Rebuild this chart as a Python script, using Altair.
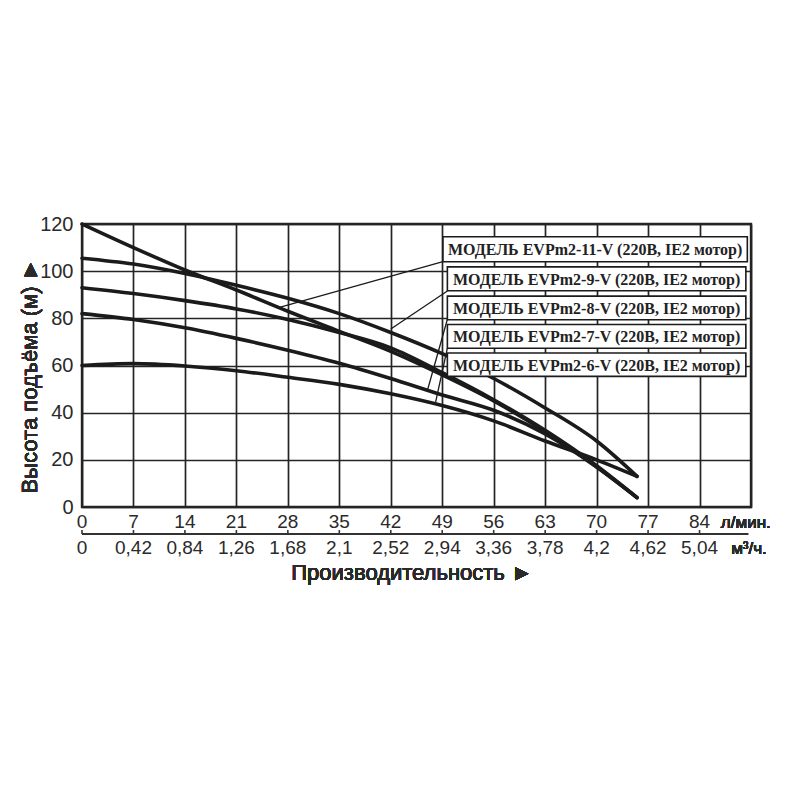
import altair as alt
import pandas as pd
import numpy as np

# ---- data ----
flow = [0, 7, 14, 21, 28, 35, 42, 49, 56, 63, 70, 75.5]
head_11 = [120, 110, 100.5, 92, 83, 74.5, 66, 56, 45, 32, 17, 4]
head_9 = [105.5, 103, 99, 94, 88.5, 82, 74, 65, 54.5, 42, 28, 13]
head_8 = [93, 90.5, 87.5, 84, 79.5, 74, 67.5, 57, 45.5, 32.5, 17.5, 4]
head_7 = [82, 79.5, 76, 71.5, 66.5, 61, 54.5, 47.5, 41, 31, 17, 4]
head_6 = [60, 60.8, 59.8, 57.8, 55, 52, 48, 43, 36.5, 28, 20, 13]

models = ["EVPm2-11-V", "EVPm2-9-V", "EVPm2-8-V", "EVPm2-7-V", "EVPm2-6-V"]
heads = [head_11, head_9, head_8, head_7, head_6]

lpm_ticks = [0, 7, 14, 21, 28, 35, 42, 49, 56, 63, 70, 77, 84]
lpm_labels = ["0", "7", "14", "21", "28", "35", "42", "49", "56", "63", "70", "77", "84"]
m3h_labels = ["0", "0,42", "0,84", "1,26", "1,68", "2,1", "2,52", "2,94", "3,36",
              "3,78", "4,2", "4,62", "5,04"]

legend_texts = [f"МОДЕЛЬ {m} (220В, IE2 мотор)" for m in models]

# ---- build tables ----
rows = []
for m, h in zip(models, heads):
    for f, v in zip(flow, h):
        rows.append({"model": m, "flow": f, "head": v})
df = pd.DataFrame(rows)

# label boxes (annotation layout in data units)
box_x1 = [49.1, 49.7, 49.7, 49.7, 49.7]
box_x2 = [90.5, 90.3, 90.3, 90.3, 90.3]
box_y1 = [114.6, 101.8, 89.4, 77.4, 65.3]
box_y2 = [104.0, 91.7, 79.4, 67.3, 55.4]
boxes = pd.DataFrame({
    "x1": box_x1, "x2": box_x2, "y1": box_y1, "y2": box_y2,
    "xc": [(a + b) / 2 for a, b in zip(box_x1, box_x2)],
    "yc": [(a + b) / 2 for a, b in zip(box_y1, box_y2)],
    "text": legend_texts,
})
leaders = pd.DataFrame({
    "x1": [49.1, 49.7, 49.7, 49.7],
    "y1": [104.0, 91.6, 79.6, 67.4],
    "x2": [26.5, 42.0, 47.0, 48.1],
    "y2": [84.3, 75.5, 49.6, 44.5],
})
ticks_df = pd.DataFrame({"flow": lpm_ticks, "lpm": lpm_labels, "m3h": m3h_labels})

W, H = 669, 283
XMAX = 91
GRID = "#242424"
INK = "#1b1b1b"
TXT = "#2a2a2a"
SANS = "Liberation Sans Narrow, Liberation Sans, Arial, sans-serif"

xs = alt.Scale(domain=[0, XMAX], nice=False, zero=False)
ys = alt.Scale(domain=[0, 120], nice=False)

xgrid = list(np.arange(0, XMAX + 0.01, 3.5))
ygrid = list(range(0, 121, 10))

curves = alt.Chart(df).mark_line(
    strokeWidth=3.6, color=INK, interpolate="monotone", strokeCap="round"
).encode(
    x=alt.X("flow:Q", scale=xs,
            axis=alt.Axis(values=xgrid, grid=True, labels=False, ticks=False,
                          domain=False, title=None, gridColor=GRID,
                          gridWidth=1.7, gridOpacity=1)),
    y=alt.Y("head:Q", scale=ys,
            axis=alt.Axis(values=ygrid, grid=True, ticks=False, domain=False,
                          title=None, gridColor=GRID, gridWidth=1.7, gridOpacity=1,
                          labelExpr="datum.value % 20 == 0 ? datum.label : ''",
                          labelFont=SANS, labelFontSize=20, labelColor=TXT,
                          labelFontWeight="normal", labelPadding=9)),
    detail="model:N",
)

leader_lines = alt.Chart(leaders).mark_rule(color=INK, strokeWidth=1.3).encode(
    x=alt.X("x1:Q", scale=xs), y=alt.Y("y1:Q", scale=ys),
    x2="x2:Q", y2="y2:Q",
)

box_rects = alt.Chart(boxes).mark_rect(fill="white", stroke=INK, strokeWidth=1.6).encode(
    x=alt.X("x1:Q", scale=xs), x2="x2:Q",
    y=alt.Y("y1:Q", scale=ys), y2="y2:Q",
)
box_text = alt.Chart(boxes).mark_text(
    font="Liberation Serif, Times New Roman, serif", fontWeight="bold",
    fontSize=16, color="#222", align="center", baseline="middle", dy=1,
).encode(
    x=alt.X("xc:Q", scale=xs), y=alt.Y("yc:Q", scale=ys), text="text:N"
)

row1 = alt.Chart(ticks_df).mark_text(
    font=SANS, fontSize=19, color=TXT, baseline="middle", align="center",
    fontWeight="normal",
).encode(x=alt.X("flow:Q", scale=xs), y=alt.value(H + 15), text="lpm:N")

row2 = alt.Chart(ticks_df).mark_text(
    font=SANS, fontSize=19, color=TXT, baseline="middle", align="center",
    fontWeight="normal",
).encode(x=alt.X("flow:Q", scale=xs), y=alt.value(H + 41), text="m3h:N")

axis_line = alt.Chart(ticks_df).mark_rule(color="#333", strokeWidth=1.6).encode(
    x=alt.datum(0, scale=xs), x2=alt.datum(90.6), y=alt.value(H + 27)
)
axis_ticks = alt.Chart(ticks_df).mark_rule(color="#333", strokeWidth=1.6).encode(
    x=alt.X("flow:Q", scale=xs), y=alt.value(H + 23), y2=alt.value(H + 27)
)

unit1 = alt.Chart(ticks_df).mark_text(
    font=SANS, fontSize=17, color=TXT, align="left", baseline="middle",
    fontWeight="normal",
).encode(x=alt.datum(86.9, scale=xs), y=alt.value(H + 16), text=alt.value("л/мин."))
unit2 = alt.Chart(ticks_df).mark_text(
    font=SANS, fontSize=17, color=TXT, align="left", baseline="middle",
    fontWeight="normal",
).encode(x=alt.datum(88.3, scale=xs), y=alt.value(H + 42), text=alt.value("м³/ч."))

xtitle = alt.Chart(ticks_df).mark_text(
    font=SANS, fontSize=22, color=TXT, align="center", baseline="middle",
    fontWeight="normal",
).encode(x=alt.value(330), y=alt.value(H + 66), text=alt.value("Производительность ►"))

ytitle = alt.Chart(ticks_df).mark_text(
    font=SANS, fontSize=22, color=TXT, align="center", baseline="middle", angle=270,
    fontWeight="normal",
).encode(x=alt.value(-52), y=alt.value(152), text=alt.value("Высота подъёма (м) ►"))

chart = alt.layer(
    curves, leader_lines, box_rects, box_text,
    row1, row2, axis_line, axis_ticks, unit1, unit2, xtitle, ytitle,
).properties(
    width=W, height=H,
    autosize=alt.AutoSizeParams(type="none"),
    padding={"left": 74, "top": 216, "right": 41, "bottom": 285},
    background="white",
).configure_view(stroke=GRID, strokeWidth=2.4)

chart.save("out.html", embed_options={"renderer": "svg", "actions": False})
